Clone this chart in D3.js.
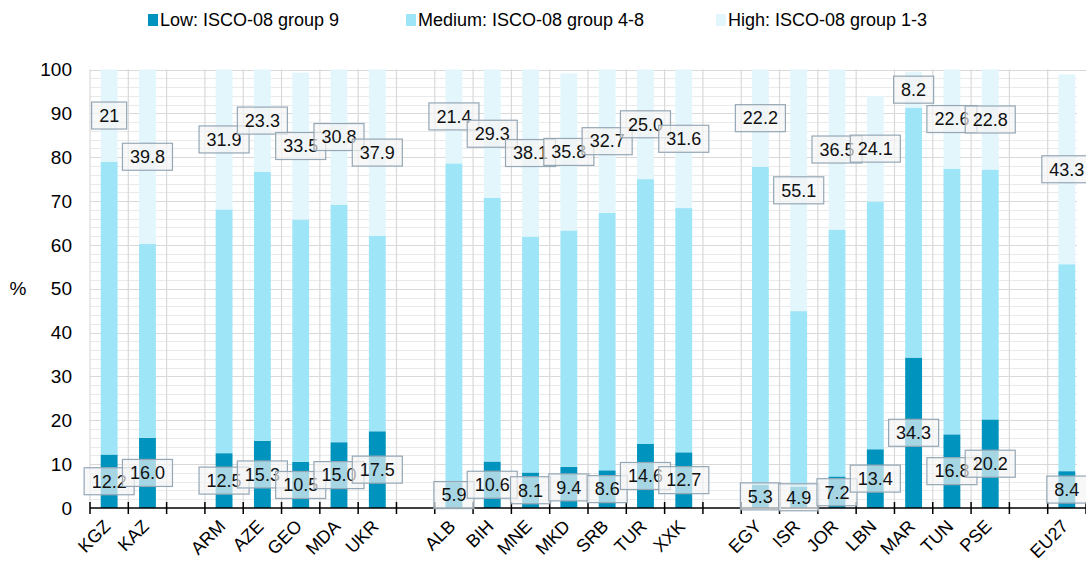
<!DOCTYPE html>
<html>
<head>
<meta charset="utf-8">
<script src="https://cdn.jsdelivr.net/npm/d3@7"></script>
<style>
  html, body { margin: 0; padding: 0; background: #fff; }
  svg { display: block; font-family: "Liberation Sans", Arial, sans-serif; }
</style>
</head>
<body>
<svg id="chart" width="1086" height="564"></svg>
<script>
// Occupational skill level shares by country (%)
const categories = ["KGZ","KAZ","ARM","AZE","GEO","MDA","UKR","ALB","BIH","MNE","MKD","SRB","TUR","XXK","EGY","ISR","JOR","LBN","MAR","TUN","PSE","EU27"];
// a blank slot is left before each of these to separate the regional groups
const groupStarts = ["ARM","ALB","EGY","EU27"];

const low    = [12.2,16.0,12.5,15.3,10.5,15.0,17.5,5.9,10.6,8.1,9.4,8.6,14.6,12.7,5.3,4.9,7.2,13.4,34.3,16.8,20.2,8.4];
const medium = [66.8,44.2,55.6,61.4,55.3,54.2,44.6,72.7,60.1,53.8,53.9,58.7,60.4,55.7,72.5,40.0,56.3,56.5,57.0,60.6,57.0,47.2];
const high   = ["21","39.8","31.9","23.3","33.5","30.8","37.9","21.4","29.3","38.1","35.8","32.7","25.0","31.6","22.2","55.1","36.5","24.1","8.2","22.6","22.8","43.3"];

const seriesNames = ["Low: ISCO-08 group 9", "Medium: ISCO-08 group 4-8", "High: ISCO-08 group 1-3"];
const seriesColors = ["#0093bd", "#9fe5f8", "#e3f6fc"];
const yTicks = [0,10,20,30,40,50,60,70,80,90,100];

const svg = d3.select("#chart");
const axisFont = 19;
const catFont = 18;
const labelFont = 18;
const legendFont = 18;

// slot list with blank separators
const slots = [];
categories.forEach(c => {
  if (groupStarts.includes(c)) slots.push("gap" + slots.length);
  slots.push(c);
});

const x = d3.scaleBand().domain(slots).range([90, 1086]).padding(0);
const y = d3.scaleLinear().domain([0, 100]).range([508, 69.5]);
const barW = x.bandwidth() * 0.44;

const rows = categories.map((c, i) => ({
  cat: c,
  low: low[i],
  medium: medium[i],
  high: +high[i],
  highText: high[i]
}));

// grid
const grid = svg.append("g");
const gridRight = 1077;
d3.range(0, 101, 2).forEach(v => {
  if (v % 10 === 0) return;
  grid.append("line").attr("x1", 90).attr("x2", gridRight)
    .attr("y1", Math.round(y(v)) + 0.5).attr("y2", Math.round(y(v)) + 0.5)
    .attr("stroke", "#eaeaea").attr("stroke-width", 1);
});
yTicks.forEach(v => {
  if (v === 0) return;
  grid.append("line").attr("x1", 90).attr("x2", v === 100 ? 1086 : gridRight)
    .attr("y1", Math.round(y(v)) + 0.5).attr("y2", Math.round(y(v)) + 0.5)
    .attr("stroke", "#d9d9d9").attr("stroke-width", 1.2);
});
const bounds = slots.map(s => x(s)).concat([x(slots[slots.length - 1]) + x.bandwidth()]);
bounds.forEach(bx => {
  if (bx > 1085) return;
  grid.append("line").attr("x1", bx).attr("x2", bx)
    .attr("y1", y(100)).attr("y2", y(0))
    .attr("stroke", "#d9d9d9").attr("stroke-width", 1.2);
});

// stacked bars
const stack = d3.stack().keys(["low", "medium", "high"]);
const stacked = stack(rows);
const barsG = svg.append("g");
stacked.forEach((layer, li) => {
  barsG.selectAll(null).data(layer).join("rect")
    .attr("x", d => x(d.data.cat) + (x.bandwidth() - barW) / 2)
    .attr("width", barW)
    .attr("y", d => y(d[1]))
    .attr("height", d => y(d[0]) - y(d[1]))
    .attr("fill", seriesColors[li]);
});

// x axis
const axisG = svg.append("g");
axisG.append("line").attr("x1", 90).attr("x2", 1086)
  .attr("y1", y(0)).attr("y2", y(0)).attr("stroke", "#000").attr("stroke-width", 1.5);
bounds.forEach(bx => {
  axisG.append("line").attr("x1", bx).attr("x2", bx)
    .attr("y1", y(0) - 6).attr("y2", y(0) + 6)
    .attr("stroke", "#000").attr("stroke-width", 1.5);
});
categories.forEach(c => {
  const cx = x(c) + x.bandwidth() / 2;
  axisG.append("text")
    .attr("transform", `translate(${cx - 2},${y(0) + 15}) rotate(-45)`)
    .attr("text-anchor", "end")
    .attr("dy", "0.35em")
    .attr("font-size", catFont)
    .attr("fill", "#000")
    .text(c);
});

// y axis labels
yTicks.forEach(v => {
  svg.append("text").attr("x", 72).attr("y", y(v)).attr("dy", "0.35em")
    .attr("text-anchor", "end").attr("font-size", axisFont).attr("fill", "#000").text(v);
});
svg.append("text").attr("x", 18).attr("y", y(50)).attr("dy", "0.35em")
  .attr("text-anchor", "middle").attr("font-size", axisFont).attr("fill", "#000").text("%");

// value labels in boxes
const labelsG = svg.append("g");
function boxLabel(cx, cy, txt) {
  const g = labelsG.append("g");
  const t = g.append("text").attr("x", cx).attr("y", cy).attr("dy", "0.35em")
    .attr("text-anchor", "middle").attr("font-size", labelFont).attr("fill", "#111").text(txt);
  const w = t.node().getComputedTextLength() + 15;
  const h = 27;
  g.insert("rect", "text")
    .attr("x", cx - w / 2).attr("y", cy - h / 2)
    .attr("width", w).attr("height", h)
    .attr("fill", "#f4f4f4").attr("fill-opacity", 0.68)
    .attr("stroke", "#95a7b5").attr("stroke-width", 1.2);
}
stacked[0].forEach(d => {
  boxLabel(x(d.data.cat) + x.bandwidth() / 2, y((d[0] + d[1]) / 2), d.data.low.toFixed(1));
});
stacked[2].forEach(d => {
  boxLabel(x(d.data.cat) + x.bandwidth() / 2, y((d[0] + d[1]) / 2), d.data.highText);
});

// legend
const legendX = [148, 406, 716];
const legend = svg.append("g");
seriesNames.forEach((name, i) => {
  legend.append("rect").attr("x", legendX[i]).attr("y", 14)
    .attr("width", 10).attr("height", 12).attr("fill", seriesColors[i]);
  legend.append("text").attr("x", legendX[i] + 12).attr("y", 20).attr("dy", "0.35em")
    .attr("font-size", legendFont).attr("fill", "#000").text(name);
});
</script>
</body>
</html>
